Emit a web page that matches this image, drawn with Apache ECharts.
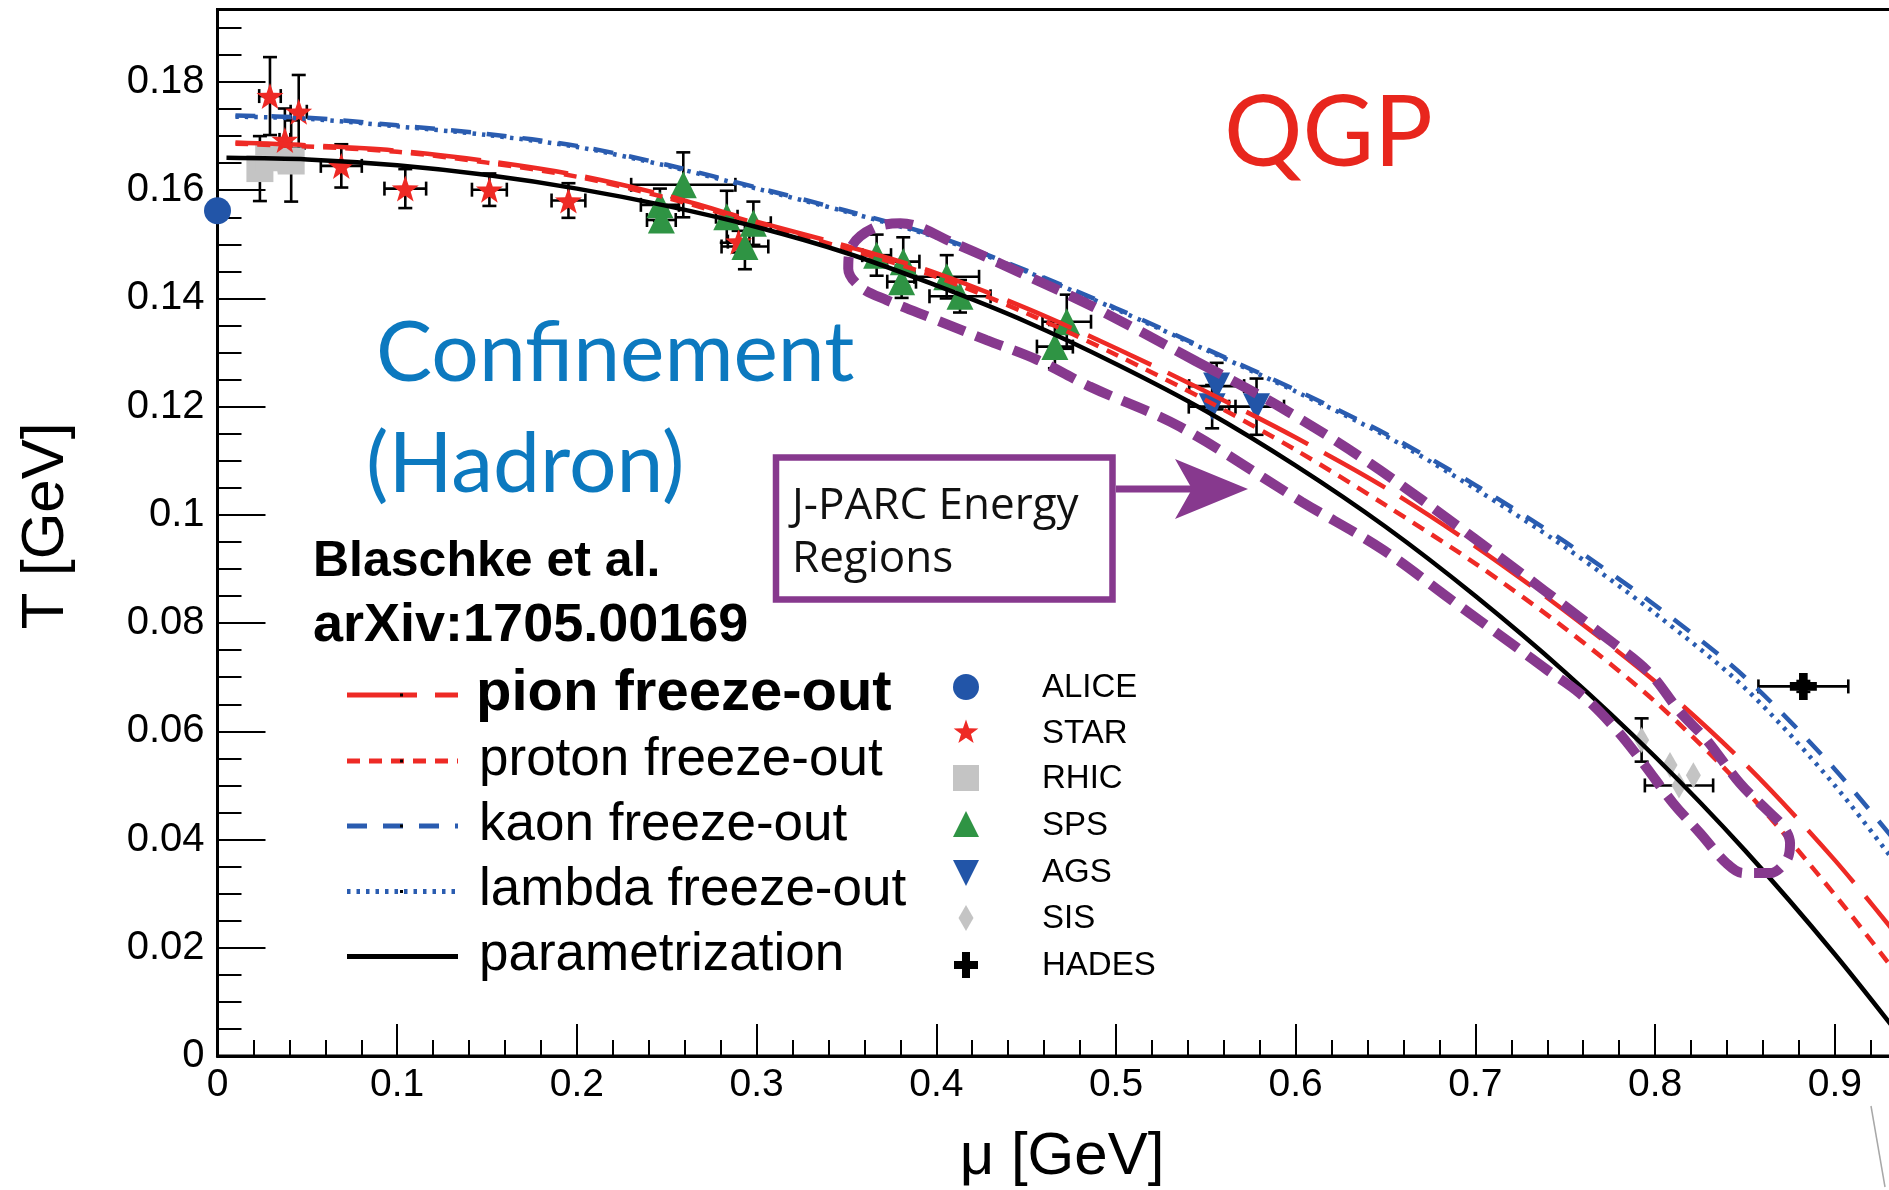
<!DOCTYPE html>
<html>
<head>
<meta charset="utf-8">
<script src="https://cdn.jsdelivr.net/npm/echarts@6/dist/echarts.min.js"></script>
<style>
  html, body { margin: 0; padding: 0; background: #ffffff; }
  #chart { width: 1889px; height: 1190px; }
</style>
</head>
<body>
<div id="chart"></div>
<script>
// ---------- freeze-out lines, [mu (GeV), T (GeV)] ----------
const parametrizationCurve = [
  [0.005, 0.1660], [0.05, 0.1657], [0.1, 0.1646], [0.15, 0.1628], [0.2, 0.1603],
  [0.25, 0.1571], [0.3, 0.1532], [0.35, 0.1484], [0.4, 0.1424], [0.45, 0.1357],
  [0.5, 0.1279], [0.55, 0.1192], [0.6, 0.1091], [0.65, 0.0978], [0.7, 0.0850],
  [0.75, 0.0709], [0.8, 0.0553], [0.85, 0.0380], [0.9, 0.0188], [0.95, -0.0022]
];
const pionCurve = [
  [0.01, 0.1688], [0.05, 0.1683], [0.1, 0.1673], [0.15, 0.1654], [0.2, 0.1628],
  [0.25, 0.1590], [0.3, 0.1542], [0.35, 0.1497], [0.4, 0.1447], [0.45, 0.1382],
  [0.5, 0.1308], [0.55, 0.1228], [0.6, 0.1143], [0.65, 0.1050], [0.7, 0.0942],
  [0.75, 0.0822], [0.8, 0.0692], [0.85, 0.0540], [0.9, 0.0362], [0.95, 0.0160]
];
const protonCurve = [
  [0.01, 0.1686], [0.05, 0.1681], [0.1, 0.1671], [0.15, 0.1651], [0.2, 0.1625],
  [0.25, 0.1586], [0.3, 0.1539], [0.35, 0.1492], [0.4, 0.1440], [0.45, 0.1373],
  [0.5, 0.1296], [0.55, 0.1212], [0.6, 0.1120], [0.65, 0.1018], [0.7, 0.0910],
  [0.75, 0.0790], [0.8, 0.0655], [0.85, 0.0492], [0.9, 0.0298], [0.95, 0.0085]
];
const kaonCurve = [
  [0.01, 0.1738], [0.05, 0.1734], [0.1, 0.1720], [0.15, 0.1704], [0.2, 0.1682],
  [0.25, 0.1647], [0.3, 0.1605], [0.35, 0.1562], [0.4, 0.1515], [0.45, 0.1452],
  [0.5, 0.1382], [0.55, 0.1307], [0.6, 0.1231], [0.65, 0.1150], [0.7, 0.1055],
  [0.75, 0.0950], [0.8, 0.0833], [0.85, 0.0700], [0.9, 0.0530], [0.95, 0.0330]
];
const lambdaCurve = [
  [0.01, 0.1736], [0.05, 0.1732], [0.1, 0.1718], [0.15, 0.1702], [0.2, 0.1680],
  [0.25, 0.1645], [0.3, 0.1603], [0.35, 0.1560], [0.4, 0.1513], [0.45, 0.1450],
  [0.5, 0.1380], [0.55, 0.1305], [0.6, 0.1228], [0.65, 0.1146], [0.7, 0.1048],
  [0.75, 0.0940], [0.8, 0.0818], [0.85, 0.0680], [0.9, 0.0500], [0.95, 0.0285]
];

// ---------- measured freeze-out points, [mu, T, dMu, dT] ----------
const aliceData = [[0.0, 0.1562, 0, 0]];
const starData = [
  [0.0292, 0.1774, 0.0060, 0.0072], [0.0452, 0.1745, 0.0045, 0.0068],
  [0.0375, 0.1693, 0.0030, 0.0058], [0.0689, 0.1645, 0.0114, 0.0040],
  [0.1045, 0.1603, 0.0116, 0.0036], [0.1513, 0.1601, 0.0097, 0.0030],
  [0.1953, 0.1581, 0.0094, 0.0032], [0.2900, 0.1505, 0.0060, 0.0020]
];
const rhicData = [
  [0.0236, 0.1640, 0, 0.0060], [0.0285, 0.1660, 0, 0], [0.0410, 0.1654, 0, 0.0075]
];
const spsData = [
  [0.2462, 0.1573, 0.0106, 0.0030], [0.2470, 0.1545, 0.0080, 0.0020],
  [0.2592, 0.1610, 0.0290, 0.0060], [0.2834, 0.1551, 0.0060, 0.0048],
  [0.2982, 0.1539, 0.0097, 0.0040], [0.2935, 0.1496, 0.0130, 0.0042],
  [0.3668, 0.1480, 0.0080, 0.0038], [0.3816, 0.1468, 0.0090, 0.0045],
  [0.3807, 0.1431, 0.0080, 0.0030], [0.4058, 0.1440, 0.0180, 0.0040],
  [0.4132, 0.1404, 0.0170, 0.0030], [0.4726, 0.1357, 0.0135, 0.0050],
  [0.4660, 0.1311, 0.0100, 0.0040]
];
const agsData = [
  [0.5560, 0.1238, 0.0153, 0.0043], [0.5535, 0.1200, 0.0130, 0.0040],
  [0.5782, 0.1200, 0.0153, 0.0052]
];
const sisData = [
  [0.7925, 0.0584, 0, 0.0040], [0.8083, 0.0538, 0, 0],
  [0.8213, 0.0519, 0, 0], [0.8133, 0.0500, 0.0190, 0]
];
const hadesData = [[0.8825, 0.0683, 0.0250, 0.0010]];

// outline of the J-PARC energy band, [mu, T]
const jparcOutline = [
  [0.545, 0.1283], [0.591, 0.1200], [0.641, 0.1096], [0.700, 0.0955], [0.7768, 0.0763],
  [0.7972, 0.0707], [0.8138, 0.0636], [0.8287, 0.0584], [0.8472, 0.0504], [0.8621, 0.0455],
  [0.8713, 0.0424], [0.8751, 0.0393], [0.8732, 0.0362], [0.8639, 0.0338], [0.8491, 0.0338],
  [0.8398, 0.0356], [0.825, 0.0412], [0.8101, 0.0467], [0.7934, 0.0541], [0.7768, 0.0609],
  [0.7582, 0.0670], [0.7397, 0.0714], [0.7238, 0.0753], [0.6874, 0.0841], [0.6483, 0.0936],
  [0.6035, 0.1024], [0.5355, 0.1163], [0.4855, 0.1237], [0.4559, 0.1287], [0.428, 0.1323],
  [0.4002, 0.1360], [0.3724, 0.1397], [0.3575, 0.1422], [0.351, 0.1455], [0.353, 0.1497],
  [0.365, 0.1530], [0.380, 0.1539], [0.410, 0.1502], [0.447, 0.1447], [0.487, 0.1385],
  [0.545, 0.1283]
];

// ---------- axes ----------
const xRange = [0, 1.0];
const xStep = 0.1;
const yRange = [0, 0.1934];
const yStep = 0.02;
const yMinorStep = 0.005;
const xTitle = 'μ [GeV]';
const yTitle = 'T [GeV]';

// ---------- legend entries ----------
const lineLegend = ['pion freeze-out', 'proton freeze-out', 'kaon freeze-out', 'lambda freeze-out', 'parametrization'];
const markerLegend = ['ALICE', 'STAR', 'RHIC', 'SPS', 'AGS', 'SIS', 'HADES'];

// ---------- styling ----------
const RED = '#ee2a25';
const BLUE = '#2a5cb0';
const GREEN = '#2f9444';
const MARK_BLUE = '#2255a8';
const GRAY = '#c4c4c4';
const PURPLE = '#87398e';
const pionDash = [70, 18];
const protonDash = [13, 9];
const kaonDash = [20, 16];
const lambdaDash = [3.5, 6];

function starVertices(cx, cy, R, r) {
  const pts = [];
  for (let i = 0; i < 10; i++) {
    const a = -Math.PI / 2 + i * Math.PI / 5;
    const rad = i % 2 ? r : R;
    pts.push([cx + rad * Math.cos(a), cy + rad * Math.sin(a)]);
  }
  return pts;
}
const starPath = 'path://' + starVertices(0, 0, 10, 4).map((p, i) => (i ? 'L' : 'M') + p[0].toFixed(3) + ',' + p[1].toFixed(3)).join(' ') + ' Z';
const plusPath = 'path://M-3.2,-10 L3.2,-10 L3.2,-3.2 L10,-3.2 L10,3.2 L3.2,3.2 L3.2,10 L-3.2,10 L-3.2,3.2 L-10,3.2 L-10,-3.2 L-3.2,-3.2 Z';

function fmtTick(v, step) {
  const k = v / step;
  if (Math.abs(k - Math.round(k)) > 1e-6) return '';
  return String(parseFloat(v.toFixed(3)));
}

function errorBars(points) {
  return {
    type: 'custom',
    silent: true,
    clip: false,
    z: 2,
    data: points,
    encode: { x: 0, y: 1 },
    renderItem: function (params, api) {
      const mu = api.value(0), t = api.value(1), dm = api.value(2), dt = api.value(3);
      const cap = 7;
      const style = { stroke: '#000', lineWidth: 2.6 };
      const kids = [];
      if (dt > 0) {
        const a = api.coord([mu, t + dt]), b = api.coord([mu, t - dt]);
        kids.push({ type: 'line', shape: { x1: a[0], y1: a[1], x2: b[0], y2: b[1] }, style });
        kids.push({ type: 'line', shape: { x1: a[0] - cap, y1: a[1], x2: a[0] + cap, y2: a[1] }, style });
        kids.push({ type: 'line', shape: { x1: b[0] - cap, y1: b[1], x2: b[0] + cap, y2: b[1] }, style });
      }
      if (dm > 0) {
        const a = api.coord([mu - dm, t]), b = api.coord([mu + dm, t]);
        kids.push({ type: 'line', shape: { x1: a[0], y1: a[1], x2: b[0], y2: b[1] }, style });
        kids.push({ type: 'line', shape: { x1: a[0], y1: a[1] - cap, x2: a[0], y2: a[1] + cap }, style });
        kids.push({ type: 'line', shape: { x1: b[0], y1: b[1] - cap, x2: b[0], y2: b[1] + cap }, style });
      }
      return { type: 'group', children: kids };
    }
  };
}

function markers(name, points, symbol, size, color, rotate) {
  return {
    name: name,
    type: 'scatter',
    clip: false,
    z: 3,
    data: points.map(p => [p[0], p[1]]),
    symbol: symbol,
    symbolSize: size,
    symbolRotate: rotate || 0,
    itemStyle: { color: color, opacity: 1 },
    emphasis: { disabled: true }
  };
}

function curve(name, pts, color, dash, width, z) {
  return {
    name: name,
    type: 'line',
    data: pts,
    smooth: 0.3,
    showSymbol: false,
    z: z || 4,
    lineStyle: { color: color, width: width, type: dash, cap: 'butt' },
    emphasis: { disabled: true }
  };
}

// ---------- overlay texts and legend ----------
const SANS = "'Liberation Sans', Arial, Helvetica, sans-serif";
function txt(str, x, y, font, fill, align, extra) {
  return Object.assign({
    type: 'text', x: x, y: y, z: 20, silent: true,
    style: {
      text: str, font: font, fill: fill,
      align: align || 'left', verticalAlign: 'middle',
      textAlign: align || 'left', textVerticalAlign: 'middle'
    }
  }, extra || {});
}

const graphics = [];
// axis titles
graphics.push(txt(yTitle, 46, 526, '60px ' + SANS, '#000', 'center', { rotation: Math.PI / 2 }));
graphics.push(txt(xTitle, 1062, 1157, '60px ' + SANS, '#000', 'center'));
// region labels
graphics.push(txt('QGP', 1224, 134, '98px Lato, "Noto Sans", sans-serif', '#e8261d'));
graphics.push(txt('Confinement', 376, 354, '84px Lato, "Noto Sans", sans-serif', '#0c79bf'));
graphics.push(txt('(Hadron)', 366, 465, '84px Lato, "Noto Sans", sans-serif', '#0c79bf'));
// reference
graphics.push(txt('Blaschke et al.', 313, 562, 'bold 50px ' + SANS, '#000'));
graphics.push(txt('arXiv:1705.00169', 313, 626, 'bold 54px ' + SANS, '#000'));

// line legend
const lineLegendY = [695, 761, 826, 891.5, 956.5];
const lineLegendStyle = [
  { stroke: RED, dash: pionDash },
  { stroke: RED, dash: protonDash },
  { stroke: BLUE, dash: kaonDash },
  { stroke: BLUE, dash: lambdaDash },
  { stroke: '#000', dash: null }
];
lineLegend.forEach((label, i) => {
  const y = lineLegendY[i];
  const st = lineLegendStyle[i];
  graphics.push({
    type: 'line', z: 20, silent: true,
    shape: { x1: 347, y1: y, x2: 458, y2: y },
    style: { stroke: st.stroke, lineWidth: 5, lineDash: st.dash, lineCap: 'butt' }
  });
  if (i < 4) {
    graphics.push({ type: 'rect', z: 21, silent: true, shape: { x: 400, y: y - 1.5, width: 3, height: 3 }, style: { fill: '#000' } });
  }
  const bold = i === 0;
  graphics.push(txt(label, bold ? 476 : 479, y - 1, (bold ? 'bold 58px ' : '53px ') + SANS, '#000'));
});

// marker legend
const markerLegendY = [687, 732.5, 778, 825, 872, 918, 965];
const mx = 966;
markerLegend.forEach((label, i) => {
  const y = markerLegendY[i];
  let g;
  if (label === 'ALICE') g = { type: 'circle', shape: { cx: mx, cy: y, r: 13 }, style: { fill: MARK_BLUE } };
  if (label === 'STAR') g = { type: 'polygon', shape: { points: starVertices(mx, y, 13, 5.2) }, style: { fill: RED } };
  if (label === 'RHIC') g = { type: 'rect', shape: { x: mx - 13, y: y - 13, width: 26, height: 26 }, style: { fill: GRAY } };
  if (label === 'SPS') g = { type: 'polygon', shape: { points: [[mx, y - 14], [mx + 13, y + 12], [mx - 13, y + 12]] }, style: { fill: GREEN } };
  if (label === 'AGS') g = { type: 'polygon', shape: { points: [[mx - 13, y - 12], [mx + 13, y - 12], [mx, y + 14]] }, style: { fill: MARK_BLUE } };
  if (label === 'SIS') g = { type: 'polygon', shape: { points: [[mx, y - 13], [mx + 7.5, y], [mx, y + 13], [mx - 7.5, y]] }, style: { fill: GRAY } };
  if (label === 'HADES') g = { type: 'polygon', shape: { points: [[mx - 4, y - 13], [mx + 4, y - 13], [mx + 4, y - 4], [mx + 12, y - 4], [mx + 12, y + 4], [mx + 4, y + 4], [mx + 4, y + 13], [mx - 4, y + 13], [mx - 4, y + 4], [mx - 12, y + 4], [mx - 12, y - 4], [mx - 4, y - 4]] }, style: { fill: '#000' } };
  g.z = 20; g.silent = true;
  graphics.push(g);
  graphics.push(txt(label, 1042, y + 1, '33px ' + SANS, '#000'));
});

// J-PARC annotation box and arrow
graphics.push({
  type: 'rect', z: 20, silent: true,
  shape: { x: 776, y: 457.5, width: 336.5, height: 142 },
  style: { fill: '#ffffff', stroke: PURPLE, lineWidth: 6.5 }
});
graphics.push(txt('J-PARC Energy', 792, 506, '44px "Open Sans", "Noto Sans", sans-serif', '#111'));
graphics.push(txt('Regions', 792, 559, '44px "Open Sans", "Noto Sans", sans-serif', '#111'));
graphics.push({
  type: 'line', z: 20, silent: true,
  shape: { x1: 1116, y1: 489, x2: 1195, y2: 489 },
  style: { stroke: PURPLE, lineWidth: 7 }
});
graphics.push({
  type: 'polygon', z: 20, silent: true,
  shape: { points: [[1175, 459], [1248, 489], [1175, 519], [1192, 489]] },
  style: { fill: PURPLE }
});
// thin grey stroke at the lower right corner
graphics.push({
  type: 'line', z: 20, silent: true,
  shape: { x1: 1871, y1: 1106, x2: 1885, y2: 1187 },
  style: { stroke: '#a8a8a8', lineWidth: 1.5 }
});

// ---------- chart ----------
const chart = echarts.init(document.getElementById('chart'), null, { renderer: 'canvas', width: 1889, height: 1190 });
const gridW = 1797 * (xRange[1] - xRange[0]);

chart.setOption({
  animation: false,
  backgroundColor: '#ffffff',
  grid: {
    left: 217.5, top: 9.5, width: gridW, height: 1046.5,
    show: true, borderColor: '#000', borderWidth: 3, backgroundColor: 'transparent',
    containLabel: false, outerBoundsMode: 'none'
  },
  xAxis: [{
    type: 'value', min: xRange[0], max: xRange[1], interval: xStep,
    axisLine: { show: true, onZero: false, lineStyle: { color: '#000', width: 3 } },
    axisTick: { show: true, inside: true, length: 32, lineStyle: { color: '#000', width: 2 } },
    minorTick: { show: true, splitNumber: 5, length: 16, lineStyle: { color: '#000', width: 2 } },
    splitLine: { show: false },
    minorSplitLine: { show: false },
    axisLabel: {
      color: '#000', fontFamily: SANS, fontSize: 39, margin: 10,
      formatter: v => fmtTick(v, xStep)
    }
  }],
  yAxis: [{
    type: 'value', position: 'left', min: yRange[0], max: yRange[1], interval: yStep,
    axisLine: { show: true, onZero: false, lineStyle: { color: '#000', width: 3 } },
    axisTick: { show: true, inside: true, length: 48, lineStyle: { color: '#000', width: 2 } },
    splitLine: { show: false },
    axisLabel: {
      color: '#000', fontFamily: SANS, fontSize: 40, margin: 13,
      formatter: v => fmtTick(v, yStep)
    }
  }, {
    type: 'value', position: 'left', offset: 0, min: yRange[0], max: yRange[1], interval: yMinorStep,
    axisLine: { show: false },
    axisTick: { show: true, inside: true, length: 24, lineStyle: { color: '#000', width: 2 } },
    splitLine: { show: false },
    axisLabel: { show: false }
  }],
  tooltip: { show: false },
  series: [
    errorBars(starData), errorBars(rhicData), errorBars(spsData),
    errorBars(agsData), errorBars(sisData), errorBars(hadesData),
    markers('ALICE', aliceData, 'circle', 27, MARK_BLUE),
    markers('RHIC', rhicData, 'rect', 27, GRAY),
    markers('STAR', starData, starPath, [27, 26], RED),
    markers('SPS', spsData, 'triangle', [27, 27], GREEN),
    markers('AGS', agsData, 'triangle', [27, 27], MARK_BLUE, 180),
    markers('SIS', sisData, 'diamond', [15, 26], GRAY),
    markers('HADES', hadesData, plusPath, 27, '#000'),
    curve('lambda freeze-out', lambdaCurve, BLUE, lambdaDash, 4.5),
    curve('kaon freeze-out', kaonCurve, BLUE, kaonDash, 4.5),
    curve('proton freeze-out', protonCurve, RED, protonDash, 4.5),
    curve('pion freeze-out', pionCurve, RED, pionDash, 4.5),
    curve('parametrization', parametrizationCurve, '#000', 'solid', 4.5),
    {
      name: 'J-PARC', type: 'line', data: jparcOutline, smooth: 0.35, showSymbol: false, z: 6,
      lineStyle: { color: PURPLE, width: 10, type: [28, 12], cap: 'butt' },
      emphasis: { disabled: true }
    }
  ],
  graphic: { elements: graphics }
});
</script>
</body>
</html>
